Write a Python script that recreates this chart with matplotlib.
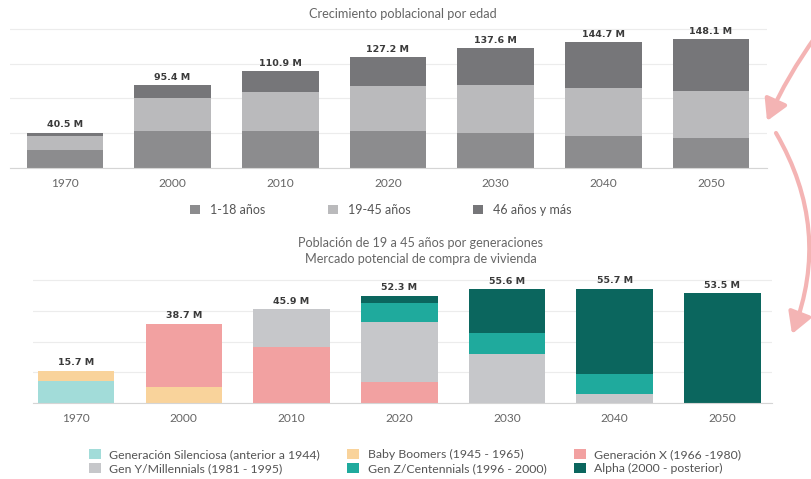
import numpy as np
from matplotlib import pyplot as plt
from matplotlib.patches import FancyArrowPatch

plt.rcParams['font.family'] = ['Lato', 'DejaVu Sans']

years = ['1970', '2000', '2010', '2020', '2030', '2040', '2050']

# crecimiento por edad (millones)
edad_1_18 = [20.5, 42.0, 42.0, 42.0, 39.8, 36.5, 34.5]
edad_19_45 = [15.7, 38.7, 45.9, 52.3, 55.6, 55.7, 53.5]
edad_46_mas = [4.3, 14.7, 23.0, 32.9, 42.2, 52.5, 60.1]
edad_labels = ['1-18 años', '19-45 años', '46 años y más']

# 19 a 45 por generaciones (millones)
silenciosa = [10.8, 0, 0, 0, 0, 0, 0]
boomers = [4.9, 7.6, 0, 0, 0, 0, 0]
gen_x = [0, 31.1, 27.2, 10.1, 0, 0, 0]
gen_y = [0, 0, 18.7, 29.4, 24.0, 4.3, 0]
gen_z = [0, 0, 0, 9.2, 10.3, 9.8, 0]
alpha = [0, 0, 0, 3.6, 21.3, 41.6, 53.5]
gen_labels = ['Generación Silenciosa (anterior a 1944)', 'Baby Boomers (1945 - 1965)',
              'Generación X (1966 -1980)', 'Gen Y/Millennials (1981 - 1995)',
              'Gen Z/Centennials (1996 - 2000)', 'Alpha (2000 - posterior)']


def style_axis(ax):
    for s in ['top', 'right', 'left']:
        ax.spines[s].set_visible(False)
    ax.spines['bottom'].set_color('#d5d5d5')
    ax.spines['bottom'].set_linewidth(0.8)
    ax.tick_params(axis='y', left=False, labelleft=False)
    ax.tick_params(axis='x', length=0, labelsize=8.6, labelcolor='#666666', pad=7)
    ax.grid(axis='y', color='#ececec', linewidth=0.8)
    ax.set_axisbelow(True)


def bar_labels(ax, x, totals):
    for xi, t in zip(x, totals):
        ax.annotate(f'{t:.1f} M', (xi, t), xytext=(0, 2.5), textcoords='offset points',
                    ha='center', va='bottom', fontsize=6.8, fontweight='bold', color='#3a3a3a',
                    family=['DejaVu Sans'])


fig = plt.figure(figsize=(8.12, 4.79), dpi=100)
x = np.arange(len(years))
W = 0.71

# ---- grafica superior
ax1 = fig.add_axes([10 / 812, 1 - 168 / 479, 757 / 812, 143.6 / 479])
cols1 = ['#8c8c8e', '#bababc', '#767679']
bottom = np.zeros(len(years))
handles1 = []
for vals, c, lab in zip([edad_1_18, edad_19_45, edad_46_mas], cols1, edad_labels):
    b = ax1.bar(x, vals, W, bottom=bottom, color=c, label=lab)
    handles1.append(b)
    bottom += np.array(vals)
ax1.set_xlim(-0.51, 6.52)
ax1.set_ylim(0, 165)
ax1.set_yticks([0, 40, 80, 120, 160])
ax1.set_xticks(x)
ax1.set_xticklabels(years)
style_axis(ax1)
bar_labels(ax1, x, bottom)
fig.text(403 / 812, 1 - 14 / 479, 'Crecimiento poblacional por edad', ha='center', va='center',
         fontsize=9.2, color='#666666')
fig.legend(handles=handles1, loc='center', bbox_to_anchor=(381 / 812, 1 - 210 / 479), ncol=3,
           frameon=False, fontsize=9, handlelength=0.8, handleheight=0.8, handletextpad=0.8,
           columnspacing=5.0, labelcolor='#555555')

# ---- grafica inferior
ax2 = fig.add_axes([33 / 812, 1 - 403 / 479, 739 / 812, 127 / 479])
gens = [silenciosa, boomers, gen_x, gen_y, gen_z, alpha]
cols2 = ['#a2dcd9', '#f9d39b', '#f2a1a1', '#c6c7ca', '#1faa9d', '#0b665e']
bottom2 = np.zeros(len(years))
handles2 = []
for vals, c, lab in zip(gens, cols2, gen_labels):
    b = ax2.bar(x, vals, W, bottom=bottom2, color=c, label=lab)
    handles2.append(b)
    bottom2 += np.array(vals)
ax2.set_xlim(-0.40, 6.46)
ax2.set_ylim(0, 62)
ax2.set_yticks([0, 15, 30, 45, 60])
ax2.set_xticks(x)
ax2.set_xticklabels(years)
style_axis(ax2)
bar_labels(ax2, x, bottom2)
fig.text(421 / 812, 1 - 243 / 479, 'Población de 19 a 45 años por generaciones', ha='center',
         va='center', fontsize=9.1, color='#666666')
fig.text(421 / 812, 1 - 259 / 479, 'Mercado potencial de compra de vivienda', ha='center',
         va='center', fontsize=9.1, color='#666666')
order = [0, 3, 1, 4, 2, 5]
fig.legend(handles=[handles2[i] for i in order], loc='center',
           bbox_to_anchor=(415 / 812, 1 - 461.5 / 479), ncol=3, frameon=False, fontsize=8.8,
           handlelength=1.0, handleheight=0.9, handletextpad=0.7, columnspacing=2.2,
           labelspacing=0.22, labelcolor='#555555')

# flechas
arrow_col = '#f4b4b4'
a1 = FancyArrowPatch((816 / 812, 1 - 36 / 479), (767 / 812, 1 - 121 / 479),
                     transform=fig.transFigure, connectionstyle='arc3,rad=0.05',
                     arrowstyle='-|>,head_length=7,head_width=4', mutation_scale=1.8,
                     shrinkA=0, shrinkB=0, color=arrow_col, linewidth=3)
a2 = FancyArrowPatch((776 / 812, 1 - 133 / 479), (792 / 812, 1 - 334 / 479),
                     transform=fig.transFigure, connectionstyle='arc3,rad=-0.24',
                     arrowstyle='-|>,head_length=7,head_width=4', mutation_scale=1.8,
                     shrinkA=0, shrinkB=0, color=arrow_col, linewidth=3)
fig.patches.extend([a1, a2])

fig.savefig('out.png', dpi=100)
